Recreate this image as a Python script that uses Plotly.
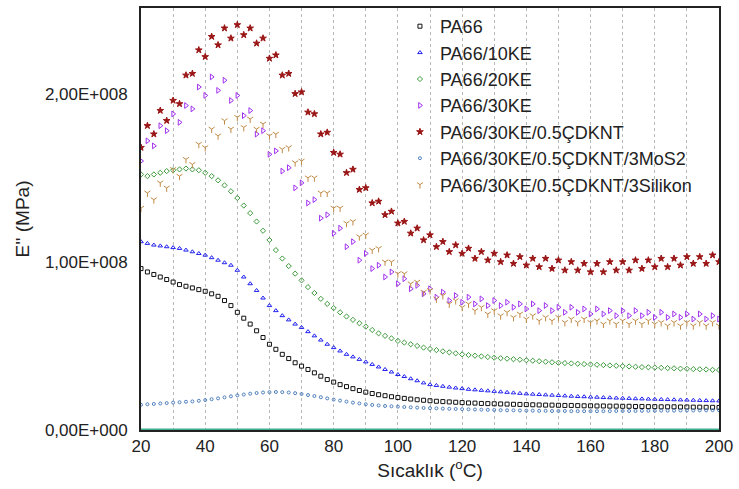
import plotly.graph_objects as go

# Temperature (°C), step 2
temperature = list(range(20, 201, 2))

# E'' values in units of 1e6
pa66 = [96, 94, 92.5, 91, 89.5, 88, 86.5, 85.5, 84.5, 83.5, 82.5, 81, 79.5, 77, 74, 70, 66.5, 63, 59, 55,
        51, 48, 45, 42.5, 40, 38, 36, 34, 32, 30, 28.5, 27, 25.8, 24.6, 23.5, 22.5, 21.7, 21, 20.4, 19.8,
        19.3, 18.8, 18.4, 18, 17.7, 17.4, 17.1, 16.9, 16.7, 16.5, 16.3, 16.1, 16, 15.8, 15.7, 15.6, 15.5, 15.4, 15.3, 15.2,
        15.1, 15, 14.9, 14.8, 14.8, 14.7, 14.6, 14.6, 14.5, 14.4, 14.4, 14.3, 14.3, 14.2, 14.2, 14.1, 14.1, 14, 14, 13.9,
        13.9, 13.8, 13.8, 13.8, 13.7, 13.7, 13.6, 13.6, 13.5, 13.5, 13.4]

pa66_10ke = [112, 111, 110, 109.5, 109, 108.5, 108, 107, 106, 105, 104, 102.5, 101, 99.5, 98, 95, 91, 87, 83, 78.5,
             74, 71, 68, 65.5, 63, 61, 58.5, 56, 53.5, 51, 49, 47, 45, 43.5, 42, 40.5, 39, 37.5, 36, 34.5,
             33, 31.8, 30.5, 29.3, 28, 27, 26.5, 26, 25.5, 25, 24.6, 24.2, 23.9, 23.6, 23.3, 23, 22.7, 22.4, 22.1, 21.8,
             21.5, 21.3, 21.1, 20.9, 20.7, 20.5, 20.3, 20.1, 19.9, 19.8, 19.6, 19.5, 19.3, 19.2, 19, 18.9, 18.8, 18.6, 18.5, 18.4,
             18.3, 18.2, 18.1, 18, 17.9, 17.8, 17.7, 17.6, 17.5, 17.4, 17.3]

pa66_20ke = [152, 151, 152, 153, 154, 154.5, 155, 155.5, 155, 154.5, 153, 151, 148.5, 145.5, 142, 138, 133.5, 129, 124, 118.5,
             113, 107, 102, 97.5, 93, 89, 85, 81.5, 78, 75, 72.5, 70, 67.5, 65.5, 63.5, 61.5, 59.5, 57.5, 56, 54.5,
             53, 52, 51, 50, 49, 48.2, 47.5, 46.8, 46.2, 45.6, 45, 44.6, 44.2, 43.8, 43.4, 43, 42.7, 42.4, 42.1, 41.8,
             41.5, 41.2, 40.9, 40.6, 40.3, 40, 39.8, 39.6, 39.4, 39.2, 39, 38.8, 38.6, 38.4, 38.2, 38, 37.8, 37.6, 37.4, 37.3,
             37.1, 37, 36.8, 36.7, 36.5, 36.4, 36.2, 36.1, 36, 35.8, 35.7]

pa66_30ke = [160, 172, 169, 181, 178, 188, 183, 193, 191, 204, 199, 210, 202, 208, 196, 199, 187, 190, 176, 178,
             164, 166, 154, 156, 144, 147, 135, 137, 126, 128, 117, 120, 109, 112, 101, 105, 96, 98, 91, 94,
             87, 90, 84, 86, 81, 84, 79, 82, 77, 80, 76, 79, 75, 78, 74, 77, 74, 76, 73, 75,
             72, 75, 71, 74, 71, 73, 70, 73, 70, 72, 69, 72, 69, 71, 68, 71, 68, 71, 68, 70,
             67, 70, 67, 69, 67, 69, 66, 69, 66, 68, 66]

pa66_cdknt = [168, 181, 176, 190, 184, 196, 194, 211, 212, 226, 222, 234, 229, 239, 233, 241, 235, 239, 230, 233,
              221, 223, 211, 212, 200, 201, 189, 188, 176, 177, 165, 164, 153, 155, 143, 144, 135, 136, 128, 130,
              123, 124, 117, 120, 113, 116, 109, 112, 106, 110, 105, 108, 102, 106, 101, 105, 100, 104, 99, 103,
              98, 102, 97, 102, 96, 101, 95, 100, 95, 99, 94, 99, 94, 100, 95, 100, 95, 101, 96, 101,
              97, 102, 97, 102, 98, 103, 99, 103, 99, 104, 100]

pa66_mos2 = [15, 15.3, 15.5, 15.8, 16, 16.3, 16.5, 16.8, 17, 17.4, 17.8, 18.3, 18.8, 19.4, 20, 20.6, 21.1, 21.6, 22, 22.3,
             22.5, 22.6, 22.5, 22.3, 21.9, 21.4, 20.8, 20.2, 19.5, 18.8, 18.1, 17.5, 16.9, 16.3, 15.8, 15.3, 14.9, 14.6, 14.3, 14.1,
             13.9, 13.7, 13.5, 13.3, 13.1, 13, 12.9, 12.7, 12.6, 12.5, 12.4, 12.3, 12.2, 12.1, 12, 11.9, 11.8, 11.7, 11.7, 11.6,
             11.5, 11.5, 11.4, 11.4, 11.3, 11.3, 11.3, 11.2, 11.2, 11.2, 11.2, 11.2, 11.2, 11.2, 11.3, 11.3, 11.3, 11.3, 11.4, 11.4,
             11.4, 11.5, 11.5, 11.5, 11.6, 11.6, 11.6, 11.7, 11.7, 11.8, 11.8]

pa66_silikon = [132, 141, 137, 147, 144, 155, 151, 161, 158, 170, 168, 179, 175, 184, 179, 186, 180, 185, 179, 182,
                175, 176, 167, 168, 159, 160, 150, 150, 141, 141, 132, 132, 123, 124, 115, 116, 107, 108, 100, 100,
                93, 93, 87, 88, 82, 83, 78, 80, 75, 77, 73, 75, 71, 73, 69, 71, 68, 70, 67, 69,
                66, 68, 65, 67, 65, 67, 64, 66, 64, 66, 64, 65, 63, 65, 63, 65, 63, 65, 63, 65,
                63, 64, 62, 64, 62, 64, 62, 64, 62, 64, 62]

baseline_series = [0] * len(temperature)

series_names = ["PA66", "PA66/10KE", "PA66/20KE", "PA66/30KE", "PA66/30KE/0.5ÇDKNT",
                "PA66/30KE/0.5ÇDKNT/3MoS2", "PA66/30KE/0.5ÇDKNT/3Silikon"]
series_values = [pa66, pa66_10ke, pa66_20ke, pa66_30ke, pa66_cdknt, pa66_mos2, pa66_silikon]

x_tick_vals = list(range(20, 201, 20))
x_tick_text = [str(v) for v in x_tick_vals]
y_tick_vals = [0, 1e8, 2e8]
y_tick_text = ["0,00E+000", "1,00E+008", "2,00E+008"]

colors = ["#111111", "#2020ee", "#3c9a3c", "#a030f0", "#9a1515", "#4f7fbf", "#c08a45"]
symbols = ["square-open", "triangle-up-open", "diamond-open", "triangle-right-open",
           "star", "circle-open", "y-down-open"]
sizes = [4, 4, 4, 5, 5, 3, 5]

fig = go.Figure()
for name, vals, c, s, sz in zip(series_names, series_values, colors, symbols, sizes):
    fig.add_trace(go.Scatter(
        x=temperature, y=[v * 1e6 for v in vals], mode="markers", name=name,
        marker=dict(symbol=s, color=c, size=sz, line=dict(color=c, width=1)),
    ))

fig.add_trace(go.Scatter(x=temperature, y=baseline_series, mode="lines", showlegend=False,
                         line=dict(color="#3fae8f", width=3), hoverinfo="skip"))

fig.update_layout(
    width=739, height=489,
    margin=dict(l=141, r=15, t=6, b=59),
    paper_bgcolor="white", plot_bgcolor="white",
    font=dict(family="Liberation Sans, Arial, sans-serif", color="#222222", size=16),
    legend=dict(x=0.448, y=1.0, xanchor="left", yanchor="top", bgcolor="rgba(0,0,0,0)",
                font=dict(size=18), tracegroupgap=0, itemsizing="trace"),
    showlegend=True,
)
fig.update_xaxes(
    range=[20, 200], tickvals=x_tick_vals, ticktext=x_tick_text,
    showgrid=True, gridcolor="#b8b8b8", griddash="dot", gridwidth=1,
    minor=dict(dtick=10, tick0=20, showgrid=True, gridcolor="#b8b8b8", griddash="dot", gridwidth=1),
    showline=True, linecolor="#222222", linewidth=2, mirror=True, ticks="", zeroline=False,
    title=dict(text="Sıcaklık (<sup>o</sup>C)", font=dict(size=19), standoff=8),
    tickfont=dict(size=17),
)
fig.update_yaxes(
    range=[0, 2.51e8], tickvals=y_tick_vals, ticktext=y_tick_text,
    showgrid=False, showline=True, linecolor="#222222", linewidth=2, mirror=True, ticks="",
    zeroline=False, ticklabelstandoff=8,
    title=dict(text="E'' (MPa)", font=dict(size=19), standoff=10),
    tickfont=dict(size=17),
)

fig.write_html("out.html")
